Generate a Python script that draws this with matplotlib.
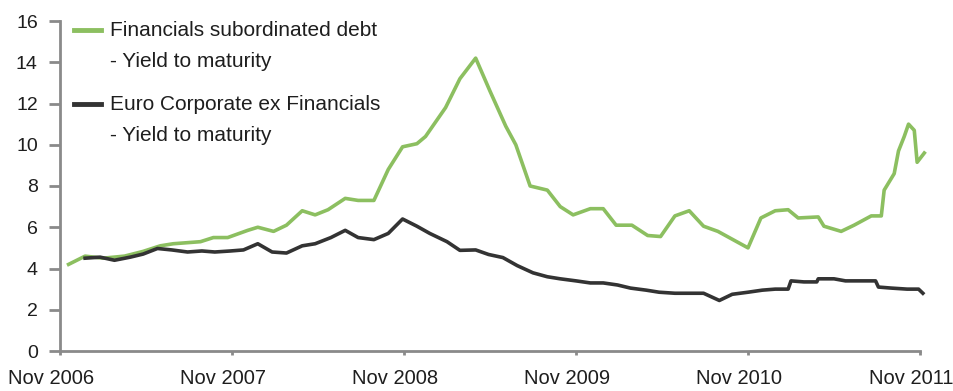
import matplotlib
matplotlib.use("Agg")
import matplotlib.pyplot as plt
import matplotlib.transforms as mtransforms

# months since Nov 2006, yield in %
fin_months = [0.6, 1.75, 3.0, 4.5, 5.8, 7.0, 7.9, 9.8, 10.7, 11.7, 13.1, 13.8, 14.9,
              15.8, 16.9, 17.8, 18.7, 19.9, 20.8, 21.9, 22.9, 23.9, 24.9, 25.5, 26.9,
              27.9, 29.0, 30.0, 31.1, 31.8, 32.8, 34.0, 34.9, 35.8, 37.0, 37.9, 38.8,
              39.9, 41.0, 41.9, 42.9, 43.9, 44.9, 45.9, 48.0, 48.9, 49.9, 50.8, 51.5,
              52.9, 53.3, 54.5, 55.4, 56.6, 57.3, 57.5, 58.2, 58.5, 58.9, 59.2, 59.6,
              59.8, 60.3]
fin_yield = [4.2, 4.6, 4.5, 4.6, 4.83, 5.1, 5.2, 5.3, 5.5, 5.5, 5.85, 6.0, 5.8,
             6.1, 6.8, 6.6, 6.85, 7.4, 7.3, 7.3, 8.8, 9.9, 10.05, 10.4, 11.8,
             13.2, 14.2, 12.6, 10.9, 10.0, 8.0, 7.8, 7.0, 6.6, 6.9, 6.9, 6.1,
             6.1, 5.6, 5.55, 6.55, 6.8, 6.05, 5.8, 5.0, 6.45, 6.8, 6.85, 6.45,
             6.5, 6.05, 5.8, 6.1, 6.55, 6.55, 7.8, 8.6, 9.7, 10.4, 11.0, 10.7,
             9.15, 9.6]

corp_months = [1.75, 2.8, 3.8, 4.9, 5.8, 6.8, 7.8, 8.9, 9.9, 10.8, 11.9, 12.8, 13.8,
               14.8, 15.8, 16.9, 17.8, 18.9, 19.9, 20.8, 21.9, 22.9, 23.9, 24.9, 25.8,
               27.0, 27.9, 29.0, 29.9, 30.9, 31.9, 33.0, 34.0, 34.9, 36.0, 37.0, 37.9,
               38.9, 39.8, 40.9, 41.8, 42.9, 44.0, 44.9, 46.0, 46.9, 48.0, 49.0, 49.9,
               50.8, 51.0, 51.9, 52.8, 52.9, 54.0, 54.8, 55.9, 56.9, 57.1, 58.0, 59.1,
               59.9, 60.2]
corp_yield = [4.5, 4.55, 4.4, 4.55, 4.7, 4.97, 4.9, 4.8, 4.85, 4.8, 4.85, 4.9, 5.2,
              4.8, 4.75, 5.1, 5.2, 5.5, 5.85, 5.5, 5.4, 5.7, 6.4, 6.05, 5.7,
              5.3, 4.88, 4.9, 4.68, 4.53, 4.14, 3.79, 3.6, 3.5, 3.4, 3.3, 3.3,
              3.2, 3.05, 2.95, 2.85, 2.8, 2.8, 2.8, 2.45, 2.75, 2.85, 2.95, 3.0,
              3.0, 3.4, 3.35, 3.35, 3.5, 3.5, 3.4, 3.4, 3.4, 3.1, 3.05, 3.0,
              3.0, 2.8]

x_ticks = [0, 12, 24, 36, 48, 60]
x_labels = ["Nov 2006", "Nov 2007", "Nov 2008", "Nov 2009", "Nov 2010", "Nov 2011"]
y_ticks = [0, 2, 4, 6, 8, 10, 12, 14, 16]

GREEN = "#8cbf60"
DARK = "#333333"
AXIS = "#8a8a8a"
TEXT = "#1e1e1e"

plt.rcParams["font.family"] = ["Liberation Sans", "DejaVu Sans"]

W, H = 954, 391
fig = plt.figure(figsize=(W / 100, H / 100), dpi=100)
ax = fig.add_axes([60 / W, 40 / H, 860 / W, 330 / H])

ax.plot(fin_months, fin_yield, color=GREEN, lw=2.6, clip_on=False, solid_joinstyle="round")
ax.plot(corp_months, corp_yield, color=DARK, lw=2.6, clip_on=False, solid_joinstyle="round")

ax.set_xlim(0, 60)
ax.set_ylim(0, 16)
ax.set_xticks(x_ticks)
ax.set_xticklabels(x_labels)
ax.set_yticks(y_ticks)

for side in ["top", "right"]:
    ax.spines[side].set_visible(False)
for side in ["left", "bottom"]:
    ax.spines[side].set_color(AXIS)
    ax.spines[side].set_linewidth(2)

ax.tick_params(axis="y", direction="out", length=8, width=2, color=AXIS,
               labelsize=14, labelcolor=TEXT, pad=8)
ax.tick_params(axis="x", direction="out", length=3, width=2, color=AXIS,
               labelsize=14.5, labelcolor=TEXT, pad=10)

# x labels sit a little left of their ticks in the original
shift = mtransforms.ScaledTranslation(-9 / 100, 0, fig.dpi_scale_trans)
for lab in ax.get_xticklabels():
    lab.set_transform(lab.get_transform() + shift)

# legend drawn by hand so the handle sits on the first text line
legend_colors = [GREEN, DARK]
legend_lines = [("Financials subordinated debt", "- Yield to maturity"),
                ("Euro Corporate ex Financials", "- Yield to maturity")]
handle_y = [30, 104]
for color, (l1, l2), hy in zip(legend_colors, legend_lines, handle_y):
    yf = 1 - hy / H
    fig.add_artist(plt.Line2D([74 / W, 101 / W], [yf, yf], color=color, lw=3.5))
    base1 = hy + 6
    fig.text(110 / W, 1 - base1 / H, l1, fontsize=15, color=TEXT, va="baseline", ha="left")
    fig.text(110 / W, 1 - (base1 + 31) / H, l2, fontsize=15, color=TEXT, va="baseline", ha="left")

fig.savefig("out.png", dpi=100, facecolor="white")
